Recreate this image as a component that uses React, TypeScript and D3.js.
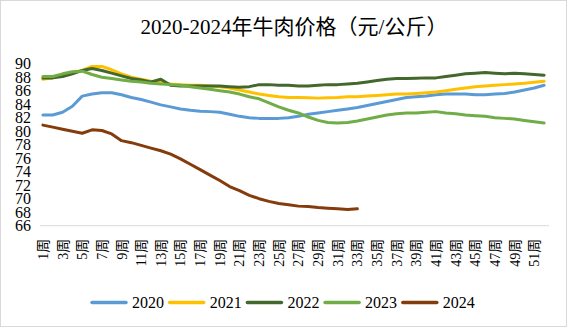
import React from "react";
import * as d3 from "d3";

const weeks: string[] = Array.from({ length: 52 }, (_, i) => `${i + 1}周`);
const years = ["2020", "2021", "2022", "2023", "2024"];
const yTicks = [66, 68, 70, 72, 74, 76, 78, 80, 82, 84, 86, 88, 90];

const s2020 = [82.4, 82.4, 82.8, 83.7, 85.2, 85.5, 85.7, 85.7, 85.4, 85.0, 84.7, 84.3, 83.9, 83.6, 83.3, 83.1, 82.95, 82.9, 82.8, 82.5, 82.2, 82.0, 81.9, 81.9, 81.9, 82.0, 82.2, 82.5, 82.7, 82.9, 83.1, 83.3, 83.5, 83.8, 84.1, 84.4, 84.7, 85.0, 85.1, 85.2, 85.4, 85.5, 85.5, 85.5, 85.4, 85.4, 85.5, 85.6, 85.8, 86.1, 86.4, 86.8];
const s2021 = [87.7, 87.9, 88.3, 88.7, 89.0, 89.6, 89.6, 89.1, 88.5, 88.0, 87.7, 87.4, 87.2, 87.0, 86.9, 86.8, 86.8, 86.7, 86.6, 86.4, 86.1, 85.8, 85.5, 85.3, 85.1, 85.0, 85.0, 84.95, 84.9, 84.95, 85.0, 85.1, 85.1, 85.2, 85.3, 85.4, 85.5, 85.5, 85.6, 85.7, 85.8, 86.0, 86.2, 86.4, 86.6, 86.7, 86.8, 86.9, 87.0, 87.1, 87.25, 87.4];
const s2022 = [87.9, 87.9, 88.1, 88.5, 89.0, 89.3, 89.0, 88.6, 88.2, 87.8, 87.6, 87.3, 87.7, 86.8, 86.7, 86.7, 86.7, 86.7, 86.7, 86.6, 86.5, 86.6, 86.9, 86.9, 86.8, 86.8, 86.7, 86.7, 86.8, 86.9, 86.9, 87.0, 87.1, 87.3, 87.5, 87.7, 87.8, 87.8, 87.85, 87.9, 87.9, 88.1, 88.3, 88.5, 88.6, 88.7, 88.6, 88.5, 88.6, 88.5, 88.4, 88.3];
const s2023 = [88.1, 88.1, 88.5, 88.8, 88.9, 88.4, 88.0, 87.8, 87.6, 87.4, 87.3, 87.1, 87.0, 86.9, 86.8, 86.6, 86.4, 86.2, 86.0, 85.8, 85.5, 85.1, 84.8, 84.2, 83.6, 83.1, 82.7, 82.1, 81.6, 81.3, 81.2, 81.3, 81.5, 81.8, 82.1, 82.4, 82.6, 82.7, 82.7, 82.8, 82.9, 82.7, 82.6, 82.4, 82.3, 82.2, 82.0, 81.9, 81.8, 81.6, 81.4, 81.2];
const s2024 = [80.9, 80.6, 80.3, 80.0, 79.7, 80.2, 80.1, 79.6, 78.6, 78.3, 77.9, 77.5, 77.1, 76.6, 75.9, 75.1, 74.3, 73.5, 72.7, 71.8, 71.2, 70.5, 70.0, 69.6, 69.3, 69.1, 68.9, 68.85, 68.7, 68.6, 68.5, 68.4, 68.5];

const seriesList = [s2020, s2021, s2022, s2023, s2024];
const colors = ["#5B9BD5", "#FFC000", "#43682B", "#70AD47", "#843C0C"];

const W = 569;
const H = 329;
const serif = "'Liberation Serif', 'Times New Roman', 'Noto Sans CJK SC', serif";
const cjk = "'Liberation Serif', 'Noto Sans CJK SC', serif";

export default function App() {
  const left = 38;
  const right = 549;
  const top = 63.7;
  const bottom = 225.7;

  const x = d3.scaleBand<string>().domain(weeks).range([left, right]).padding(0);
  const y = d3.scaleLinear().domain([66, 90]).range([bottom, top]);
  const cx = (i: number) => (x(weeks[i]) as number) + x.bandwidth() / 2;

  const line = d3
    .line<number>()
    .x((_, i) => cx(i))
    .y((d) => y(d));

  const legendStart = 92;
  const legendStep = 77.7;

  return (
    <svg
      width={W}
      height={H}
      style={{ position: "absolute", left: 0, top: 0, background: "#fff" }}
    >
      <rect x={0.5} y={0.5} width={566} height={326} fill="#fff" stroke="#d9d9d9" />
      <text
        x={294}
        y={34}
        textAnchor="middle"
        fontFamily={cjk}
        fontSize={21}
        fill="#000"
      >
        2020-2024年牛肉价格（元/公斤）
      </text>

      {yTicks.map((t) => (
        <text
          key={t}
          x={31}
          y={y(t) + 5.5}
          textAnchor="end"
          fontFamily={serif}
          fontSize={16}
          fill="#000"
        >
          {t}
        </text>
      ))}

      <line x1={left + 2} x2={right} y1={bottom} y2={bottom} stroke="#d9d9d9" strokeWidth={1} />

      {weeks.map((w, i) =>
        i % 2 === 0 ? (
          <text
            key={w}
            transform={`translate(${cx(i) + 5},${bottom + 13}) rotate(-90)`}
            textAnchor="end"
            fontFamily={cjk}
            fontSize={14}
            fill="#000"
          >
            {w}
          </text>
        ) : null
      )}

      {seriesList.map((s, k) => (
        <path
          key={years[k]}
          d={line(s) || ""}
          fill="none"
          stroke={colors[k]}
          strokeWidth={3}
          strokeLinejoin="round"
          strokeLinecap="round"
        />
      ))}

      {years.map((yr, k) => {
        const lx = legendStart + k * legendStep;
        return (
          <g key={yr}>
            <line
              x1={lx}
              x2={lx + 34}
              y1={302.5}
              y2={302.5}
              stroke={colors[k]}
              strokeWidth={3.5}
              strokeLinecap="round"
            />
            <text x={lx + 40} y={308} fontFamily={serif} fontSize={16} fill="#000">
              {yr}
            </text>
          </g>
        );
      })}
    </svg>
  );
}
